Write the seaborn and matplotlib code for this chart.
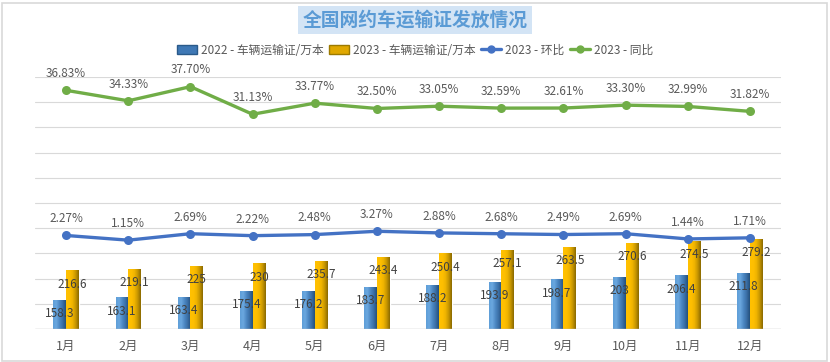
import numpy as np
import pandas as pd
import seaborn as sns
import matplotlib.pyplot as plt
from matplotlib.colors import LinearSegmentedColormap
from matplotlib.lines import Line2D
from matplotlib.patches import Patch, Rectangle

# 数据
months = ['1月', '2月', '3月', '4月', '5月', '6月', '7月', '8月', '9月', '10月', '11月', '12月']
cert_2022 = [158.3, 163.1, 163.4, 175.4, 176.2, 183.7, 188.2, 193.9, 198.7, 203, 206.4, 211.8]
cert_2023 = [216.6, 219.1, 225, 230, 235.7, 243.4, 250.4, 257.1, 263.5, 270.6, 274.5, 279.2]
mom_2023 = [2.27, 1.15, 2.69, 2.22, 2.48, 3.27, 2.88, 2.68, 2.49, 2.69, 1.44, 1.71]
yoy_2023 = [36.83, 34.33, 37.70, 31.13, 33.77, 32.50, 33.05, 32.59, 32.61, 33.30, 32.99, 31.82]

s1 = '2022 - 车辆运输证/万本'
s2 = '2023 - 车辆运输证/万本'

sns.set_theme(style='white')
plt.rcParams['font.family'] = ['Noto Sans CJK SC', 'DejaVu Sans']

bar_df = pd.DataFrame({
    'month': months * 2,
    'value': cert_2022 + cert_2023,
    'series': [s1] * 12 + [s2] * 12,
})
line_df = pd.DataFrame({'month': months, 'mom': np.array(mom_2023) / 100, 'yoy': np.array(yoy_2023) / 100})

fig = plt.figure(figsize=(8.3, 3.62), dpi=100)
ax = fig.add_axes([35 / 830, 1 - 329 / 362, 746 / 830, 252 / 362])

sns.barplot(data=bar_df, x='month', y='value', hue='series', order=months,
            palette=['#4f8cc9', '#ffc000'], width=0.41, saturation=1,
            legend=False, ax=ax)
ymin = 100

# 柱子渐变效果
cm_blue = LinearSegmentedColormap.from_list('b', ['#5f9ed8', '#6aa8df', '#4d88c4', '#3a6fa6', '#24507c'])
cm_gold = LinearSegmentedColormap.from_list('g', ['#ffc000', '#ffc000', '#f0b400', '#c79600', '#8a6a00'])
grad = np.linspace(0, 1, 64).reshape(1, -1)
bars = [p for p in ax.patches if isinstance(p, Rectangle) and p.get_height() > 0]
for i, p in enumerate(bars):
    x0, w, h = p.get_x(), p.get_width(), p.get_height()
    cmap = cm_blue if i < 12 else cm_gold
    im = ax.imshow(grad, cmap=cmap, aspect='auto', extent=(x0, x0 + w, ymin, h), zorder=p.get_zorder() + 0.1)
    im.set_clip_path(p)
    ax.annotate(f'{h:g}', (x0 + w / 2, h), xytext=(0, -10), textcoords='offset points',
                ha='center', va='center', fontsize=8.5, color='#404040', zorder=5)
ax.set_ylim(ymin, 600)
ax.set_xlim(-0.5, 11.5)

for yv in np.arange(150, 601, 50):
    ax.axhline(yv, color='#d9d9d9', lw=0.8, zorder=0)
ax.axhline(ymin, color='#bfbfbf', lw=1, zorder=3)

ax.set_yticks([])
ax.set_xlabel('')
ax.set_ylabel('')
ax.tick_params(axis='x', length=0, pad=8, labelsize=9, labelcolor='#595959')
for s in ax.spines.values():
    s.set_visible(False)

ax2 = ax.twinx()
sns.lineplot(data=line_df, x='month', y='mom', color='#4472c4', lw=2.4, marker='o',
             markersize=6.5, markeredgewidth=0, ax=ax2, sort=False)
sns.lineplot(data=line_df, x='month', y='yoy', color='#70ad47', lw=2.4, marker='o',
             markersize=6.5, markeredgewidth=0, ax=ax2, sort=False)
ax2.set_ylim(-0.2, 0.4)
ax2.set_xlim(-0.5, 11.5)
ax2.set_yticks([])
ax2.set_ylabel('')
for s in ax2.spines.values():
    s.set_visible(False)
for i in range(12):
    ax2.annotate(f'{mom_2023[i]:.2f}%', (i, mom_2023[i] / 100), xytext=(0, 12), textcoords='offset points',
                 ha='center', va='center', fontsize=8.5, color='#595959')
    ax2.annotate(f'{yoy_2023[i]:.2f}%', (i, yoy_2023[i] / 100), xytext=(0, 12), textcoords='offset points',
                 ha='center', va='center', fontsize=8.5, color='#595959')

# 图例
handles = [
    Patch(facecolor='#3f78b5', edgecolor='#2a5a8a'),
    Patch(facecolor='#e0a800', edgecolor='#9c7a00'),
    Line2D([0], [0], color='#4472c4', lw=2.4, marker='o', markersize=5),
    Line2D([0], [0], color='#70ad47', lw=2.4, marker='o', markersize=5),
]
labels = [s1, s2, '2023 - 环比', '2023 - 同比']
fig.legend(handles, labels, loc='center', bbox_to_anchor=(0.5, 1 - 50 / 362), ncol=4,
           frameon=False, fontsize=8.5, labelcolor='#595959', handlelength=1.7,
           handletextpad=0.3, columnspacing=0.5)

# 标题
fig.text(0.5, 1 - 20 / 362, '全国网约车运输证发放情况', ha='center', va='center',
         fontsize=13.5, fontweight='bold', color='#5b9bd5',
         bbox=dict(boxstyle='square,pad=0.25', facecolor='#d3e4f5', edgecolor='none'))

# 外框
fig.patches.append(Rectangle((1.5 / 830, 1.5 / 362), 825 / 830, 358 / 362, transform=fig.transFigure,
                             fill=False, edgecolor='#d9d9d9', lw=1.2))

fig.savefig('out.png', dpi=100)
